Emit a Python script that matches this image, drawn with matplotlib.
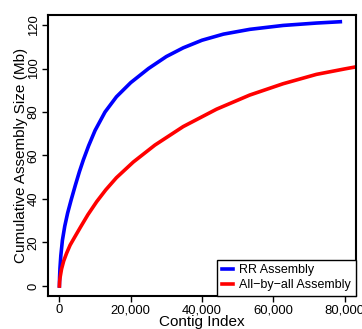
import matplotlib
matplotlib.use("Agg")
from matplotlib import pyplot as plt

plt.rcParams['font.family'] = ['Liberation Sans', 'DejaVu Sans']

# values
rr_x = [0, 50, 150, 400, 840, 1500, 2300, 3280, 4500, 5600, 6720, 8200, 10000, 12800, 16000,
        20000, 25000, 30000, 34730, 40000, 46000, 53400, 62750, 72100, 78800]
rr_y = [0, 4, 8, 14, 21, 27.5, 33.5, 39.5, 46.5, 52.5, 58, 64.5, 71.5, 80, 87,
        93.5, 100, 105.5, 109.5, 113, 115.8, 118, 119.8, 120.9, 121.5]
aba_x = [0, 60, 200, 600, 1200, 2000, 3000, 4400, 6000, 8000, 10470, 13000, 16000, 20730,
         26800, 34730, 44090, 53400, 62750, 72100, 80000, 84000]
aba_y = [0, 2, 4, 7.8, 11.5, 15, 18.8, 22.8, 27.3, 32.8, 38.8, 44.2, 49.8, 57,
         64.8, 73.3, 81.3, 87.8, 93, 97.3, 99.8, 101]
xticks = [0, 20000, 40000, 60000, 80000]
xtick_labels = ['0', '20,000', '40,000', '60,000', '80,000']
yticks = [0, 20, 40, 60, 80, 100, 120]

fig = plt.figure(figsize=(3.62, 3.29), dpi=100)
ax = fig.add_axes([48 / 362, 33 / 329, 308 / 362, 281 / 329])
ax.plot(rr_x, rr_y, color='#0000ff', lw=2.6, label='RR Assembly')
ax.plot(aba_x, aba_y, color='#ff0000', lw=2.6, label='All\u2212by\u2212all Assembly')
ax.set_xlim(-3200, 83200)
ax.set_ylim(-4.6, 124.6)
ax.set_xticks(xticks)
ax.set_xticklabels(xtick_labels)
ax.set_yticks(yticks)
ax.set_yticklabels([str(v) for v in yticks], rotation=90, va='center')
ax.tick_params(direction='out', length=4.5, width=1, labelsize=9.4, pad=1.5, colors='black')
for s in ax.spines.values():
    s.set_linewidth(1.5)
ax.set_xlabel('Contig Index', fontsize=11, labelpad=-1)
ax.set_ylabel('Cumulative Assembly Size (Mb)', fontsize=11, labelpad=0)
leg = ax.legend(loc='lower right', borderaxespad=0, fancybox=False, fontsize=9,
                handlelength=0.9, handletextpad=0.5, borderpad=0.4, labelspacing=0.2,
                framealpha=1)
leg.get_frame().set_edgecolor('black')
leg.get_frame().set_linewidth(1)
fig.savefig('out.png', dpi=100)
